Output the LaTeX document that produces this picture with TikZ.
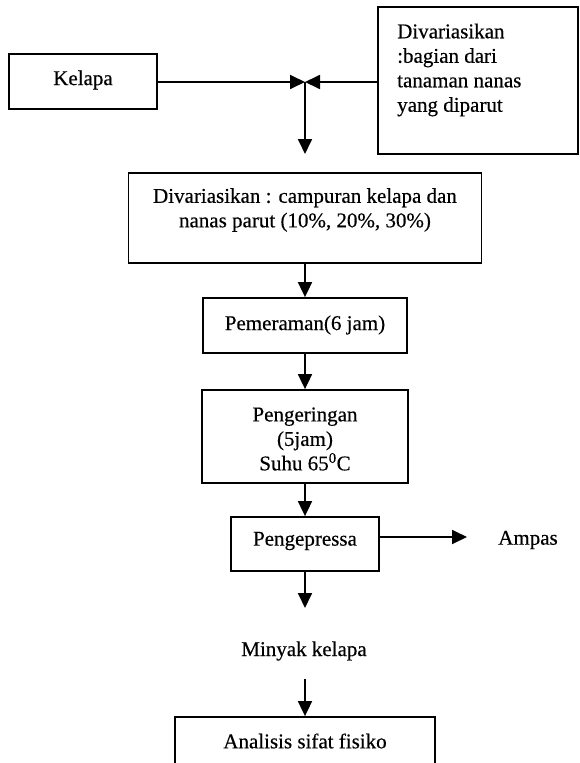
\documentclass[tikz,border=0pt]{standalone}
\usepackage{fontspec}
\setmainfont[FakeBold=0.4]{Liberation Serif}
\usetikzlibrary{arrows.meta,calc}
\begin{document}
\begin{tikzpicture}[x=1pt,y=-1pt,
  every node/.style={font=\fontsize{21}{24.5}\selectfont, inner sep=0pt},
  box/.style={draw, line width=1.8pt, rectangle},
  flow/.style={line width=1.8pt, -{Triangle[length=15pt,width=14pt]}}
]
\useasboundingbox[fill=white] (0,0) rectangle (579,763);
% boxes
\node[box, minimum width=148pt, minimum height=55pt] (kelapa) at (83,81.5) {};
\node (kelapaT) at (83,80) {Kelapa};
\node[box, minimum width=200pt, minimum height=147pt] (var) at (478,80.5) {};
\node[align=left, anchor=west] (varT) at (397,70) {Divariasikan\\:bagian dari\\tanaman nanas\\yang diparut};
\node[box, minimum width=353pt, minimum height=90pt] (campur) at (305,218) {};
\node[align=center] (campurT) at (305,210) {Divariasikan : campuran kelapa dan\\nanas parut (10\%, 20\%, 30\%)};
\node[box, minimum width=204pt, minimum height=55pt] (peram) at (305,325.5) {};
\node (peramT) at (305,325) {Pemeraman(6 jam)};
\node[box, minimum width=206pt, minimum height=93pt] (kering) at (305,436.5) {};
\node[align=center] (keringT) at (305,439) {Pengeringan\\(5jam)\\Suhu 65\textsuperscript{0}C};
\node[box, minimum width=148pt, minimum height=54pt] (press) at (305,544) {};
\node (pressT) at (305,541) {Pengepressa};
\node (ampas) at (528,540) {Ampas};
\node (minyak) at (304,651) {Minyak kelapa};
\node[box, minimum width=260pt, minimum height=56pt] (analisis) at (305,745) {};
\node (analisisT) at (305,741) {Analisis sifat fisiko};
% coordinates
\coordinate (J) at (305,82);
\coordinate (Jdown) at (305,154);
\coordinate (ampasTip) at (467,537);
\coordinate (pressOut) at (305,608);
\coordinate (minyakOut) at (305,679);
% connectors
\draw[flow] (kelapa.east |- J) -- (J);
\draw[flow] (var.west |- J) -- (J);
\draw[flow] (J) -- (Jdown);
\draw[flow] (campur.south) -- (peram.north);
\draw[flow] (peram.south) -- (kering.north);
\draw[flow] (kering.south) -- (press.north);
\draw[flow] (press.east |- ampasTip) -- (ampasTip);
\draw[flow] (press.south) -- (pressOut);
\draw[flow] (minyakOut) -- (minyakOut |- analisis.north);
\end{tikzpicture}
\end{document}
